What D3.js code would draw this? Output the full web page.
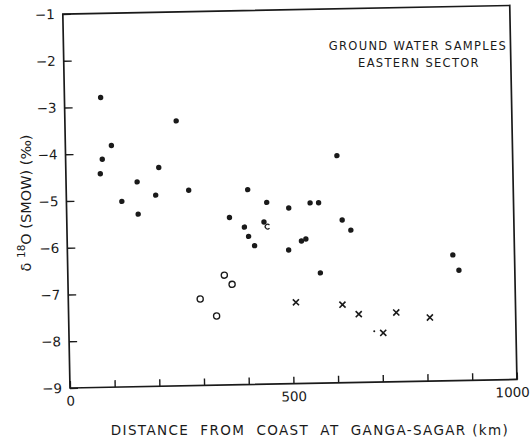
<!DOCTYPE html>
<html>
<head>
<meta charset="utf-8">
<script src="https://cdn.jsdelivr.net/npm/d3@7"></script>
<style>
  body { margin: 0; background: #fff; }
  text { font-family: "DejaVu Sans", sans-serif; fill: #1a1a1a; }
</style>
</head>
<body>
<svg id="chart" width="532" height="441"></svg>
<script>
// [distance from coast (km), delta 18O (per mil)]
const solidDots = [
  [81, -2.80], [103, -3.83], [82, -4.12], [77, -4.43], [249, -3.33],
  [208, -4.32], [159, -4.62], [200, -4.91], [124, -5.03], [160, -5.31],
  [274, -4.82], [406, -4.83], [448, -5.11], [364, -5.42], [397, -5.63],
  [441, -5.53], [406, -5.83], [419, -6.03], [497, -5.24], [545, -5.14],
  [564, -5.14], [607, -4.14], [616, -5.52], [635, -5.74], [524, -5.95],
  [534, -5.91], [495, -6.14], [565, -6.64], [862, -6.31], [875, -6.64]
];
const openCircles = [[350, -6.65], [367, -6.85], [295, -7.15], [331, -7.52]];
const crosses = [[509, -7.26], [613, -7.33], [649, -7.54], [703, -7.95], [733, -7.52], [808, -7.64]];
const brokenMark = [[449, -5.63]];
const tinyDot = [[683, -7.91]];

const xTicks = [0, 100, 200, 300, 400, 500, 600, 700, 800, 900, 1000];
const xTickLabels = [0, 500, 1000];
const yTicks = [-1, -2, -3, -4, -5, -6, -7, -8, -9];

const svg = d3.select("#chart");
const ink = "#1a1a1a";

// bottom-left corner of the frame and its size
const origin = { x: 70, y: 388 };
const width = 447, height = 374;
const tilt = -1.1; // the scanned figure sits slightly rotated

const x = d3.scaleLinear().domain([0, 1000]).range([0, width]);
const y = d3.scaleLinear().domain([-9, -1]).range([height, 0]);

const g = svg.append("g")
  .attr("transform", `rotate(${tilt},${origin.x},${origin.y}) translate(${origin.x},${origin.y - height})`);

// frame
g.append("rect")
  .attr("x", 0).attr("y", 0)
  .attr("width", width).attr("height", height)
  .attr("fill", "none")
  .attr("stroke", ink)
  .attr("stroke-width", 1.7);

// x axis (ticks point inward)
const xAxis = g.append("g")
  .attr("transform", `translate(0,${height})`)
  .call(d3.axisBottom(x)
    .tickValues(xTicks)
    .tickSizeInner(-7)
    .tickSizeOuter(0)
    .tickPadding(8)
    .tickFormat(d => xTickLabels.includes(d) ? d : ""));
xAxis.select(".domain").remove();
xAxis.selectAll("line").attr("stroke", ink).attr("stroke-width", 1.4);
xAxis.selectAll("text")
  .attr("font-size", 13.5)
  .attr("font-family", "DejaVu Sans")
  .attr("fill", ink)
  .attr("dx", d => d === 1000 ? -5 : 0);

// y axis
const yAxis = g.append("g")
  .call(d3.axisLeft(y)
    .tickValues(yTicks)
    .tickSizeInner(-8)
    .tickSizeOuter(0)
    .tickPadding(8));
yAxis.select(".domain").remove();
yAxis.selectAll("line").attr("stroke", ink).attr("stroke-width", 1.4);
yAxis.selectAll("text")
  .attr("font-size", 13.5)
  .attr("font-family", "DejaVu Sans")
  .attr("fill", ink);

// filled dots
g.selectAll(".dot")
  .data(solidDots)
  .enter().append("circle")
  .attr("class", "dot")
  .attr("cx", d => x(d[0]))
  .attr("cy", d => y(d[1]))
  .attr("r", 2.7)
  .attr("fill", ink);

// open circles
g.selectAll(".ring")
  .data(openCircles)
  .enter().append("circle")
  .attr("class", "ring")
  .attr("cx", d => x(d[0]))
  .attr("cy", d => y(d[1]))
  .attr("r", 3.1)
  .attr("fill", "none")
  .attr("stroke", ink)
  .attr("stroke-width", 1.3);

// crosses
const cross = d3.symbol().type(d3.symbolTimes).size(26);
g.selectAll(".cross")
  .data(crosses)
  .enter().append("path")
  .attr("class", "cross")
  .attr("transform", d => `translate(${x(d[0])},${y(d[1])})`)
  .attr("d", cross)
  .attr("fill", "none")
  .attr("stroke", ink)
  .attr("stroke-width", 1.6);

// half-printed circle next to the cluster near 450 km
const arc = d3.arc()
  .innerRadius(1.8)
  .outerRadius(3)
  .startAngle(Math.PI / 2 + 0.7)
  .endAngle(Math.PI / 2 + 2 * Math.PI - 0.7);
g.selectAll(".broken")
  .data(brokenMark)
  .enter().append("path")
  .attr("class", "broken")
  .attr("transform", d => `translate(${x(d[0])},${y(d[1])})`)
  .attr("d", arc)
  .attr("fill", ink);

g.selectAll(".speck")
  .data(tinyDot)
  .enter().append("circle")
  .attr("class", "speck")
  .attr("cx", d => x(d[0]))
  .attr("cy", d => y(d[1]))
  .attr("r", 1)
  .attr("fill", ink);

// title inside the frame
svg.append("text")
  .attr("x", 418).attr("y", 50)
  .attr("text-anchor", "middle")
  .attr("font-size", 11.5)
  .attr("letter-spacing", 1.3)
  .text("GROUND WATER SAMPLES");
svg.append("text")
  .attr("x", 419).attr("y", 67)
  .attr("text-anchor", "middle")
  .attr("font-size", 11.5)
  .attr("letter-spacing", 1.3)
  .text("EASTERN  SECTOR");

// axis titles
svg.append("text")
  .attr("x", 310).attr("y", 435)
  .attr("text-anchor", "middle")
  .attr("font-size", 13.5)
  .attr("letter-spacing", 1.35)
  .attr("xml:space", "preserve")
  .text("DISTANCE  FROM  COAST  AT  GANGA-SAGAR (km)");

const yTitle = svg.append("text")
  .attr("transform", "translate(31,203) rotate(-90)")
  .attr("text-anchor", "middle")
  .attr("font-size", 14.5)
  .attr("xml:space", "preserve");
yTitle.append("tspan").text("δ ");
yTitle.append("tspan").attr("font-size", 10.5).attr("dy", -6).text("18");
yTitle.append("tspan").attr("dy", 6).text("O (SMOW) (‰)");
</script>
</body>
</html>
